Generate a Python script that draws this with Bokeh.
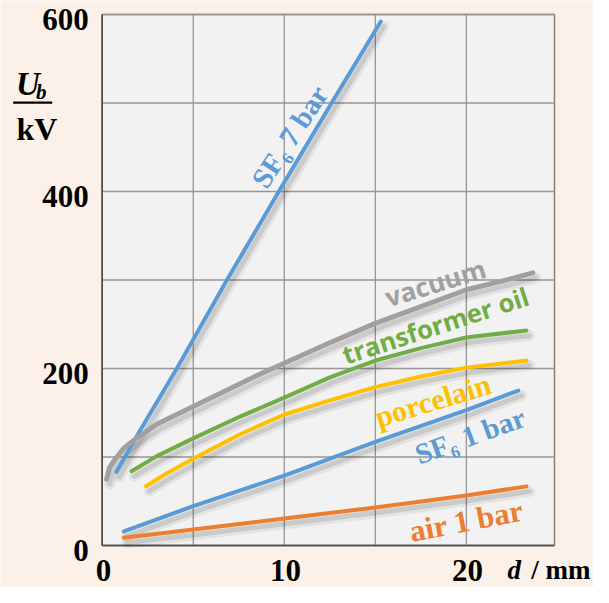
import math
from bokeh.plotting import figure
from bokeh.models import Range1d
from bokeh.core.properties import value
from bokeh.embed import file_html
from bokeh.resources import INLINE

# ---------------- data ----------------
x_lim = [0, 24.84]
y_lim = [0, 600]
x_ticks = [0, 5, 10, 15, 20]
x_tick_labels = ["0", "", "10", "", "20"]
y_ticks = [0, 100, 200, 300, 400, 500, 600]
y_tick_labels = ["0", "", "200", "", "400", "", "600"]

sf6_7_d = [0.78, 2.0, 4.1, 6.85, 9.7, 12.6, 15.3]
sf6_7_U = [83, 127, 200, 300, 400, 500, 592]

vacuum_d = [0.24, 0.4, 0.73, 1.2, 1.74, 3.0, 5.0, 6.7, 8.5, 10.0, 12.5, 15.0, 17.5, 20.0, 22.0, 23.65]
vacuum_U = [75, 88, 98, 110, 119, 137, 157, 174, 192, 206, 229, 251, 270, 289, 299, 308]

oil_d = [1.61, 3.0, 5.0, 7.6, 10.0, 12.5, 15.0, 17.5, 20.0, 23.3]
oil_U = [84, 101, 121, 146, 167, 190, 209, 223, 235, 243]

porcelain_d = [2.41, 3.5, 5.0, 7.6, 10.0, 12.5, 15.0, 17.5, 20.0, 23.3]
porcelain_U = [67, 81, 98, 126, 148, 164, 179, 191, 201, 209]

sf6_1_d = [1.19, 5.0, 10.0, 15.0, 20.0, 22.85]
sf6_1_U = [16, 44.5, 79, 117, 153, 175]

air_d = [1.19, 5.0, 10.0, 15.0, 20.0, 23.3]
air_U = [8.7, 18, 30.5, 43, 56.6, 66.8]

series = [
    ("SF\u2086 7 bar", sf6_7_d, sf6_7_U, "#5B9BD5"),
    ("vacuum", vacuum_d, vacuum_U, "#A0A0A0"),
    ("transformer oil", oil_d, oil_U, "#70AD47"),
    ("porcelain", porcelain_d, porcelain_U, "#FFC000"),
    ("SF\u2086 1 bar", sf6_1_d, sf6_1_U, "#5B9BD5"),
    ("air 1 bar", air_d, air_U, "#ED7D31"),
]

# curve labels: (text, d, U, angle_deg, font, size, color)
labels = [
    ("SF\u2086 7 bar", 10.3, 462, 57, "Liberation Serif", "29px", "#5B9BD5"),
    ("vacuum", 18.3, 297, 17, "Open Sans", "26px", "#A0A0A0"),
    ("transformer oil", 18.3, 249, 18, "Open Sans", "25.5px", "#70AD47"),
    ("porcelain", 18.15, 164, 17, "Liberation Serif", "30px", "#FFC000"),
    ("SF\u2086 1 bar", 20.2, 124, 20, "Liberation Serif", "29px", "#5B9BD5"),
    ("air 1 bar", 20.0, 28, 11, "Liberation Serif", "31px", "#ED7D31"),
]

# ---------------- layout (canvas pixels) ----------------
W, H = 593, 587
FL, FR, FT, FB = 101.7, 554.0, 14.0, 545.0   # plot-area edges on the canvas
ux = (x_lim[1] - x_lim[0]) / (FR - FL)
uy = (y_lim[1] - y_lim[0]) / (FB - FT)
x_start = x_lim[0] - FL * ux
x_end = x_lim[1] + (W - FR) * ux
y_start = y_lim[0] - (H - FB) * uy
y_end = y_lim[1] + FT * uy


def cx(px):
    return x_start + px * ux


def cy(py):
    return y_end - py * uy


PEACH = "#FCF1E9"
p = figure(width=W, height=H, output_backend="svg", toolbar_location=None,
           x_range=Range1d(x_start, x_end), y_range=Range1d(y_start, y_end),
           x_axis_type=None, y_axis_type=None, min_border=0)
p.min_border_left = p.min_border_right = p.min_border_top = p.min_border_bottom = 0
p.background_fill_color = PEACH
p.border_fill_color = PEACH
p.outline_line_color = None

# plot area
p.quad(left=[x_lim[0]], right=[x_lim[1]], bottom=[y_lim[0]], top=[y_lim[1]],
       fill_color="#F2F2F2", line_color="#808080", line_width=1.5)

# grid
GRID = "#969696"
p.segment(x0=x_ticks, y0=[y_lim[0]] * len(x_ticks), x1=x_ticks, y1=[y_lim[1]] * len(x_ticks),
          line_color=GRID, line_width=1.3)
p.segment(x0=[x_lim[0]] * len(y_ticks), y0=y_ticks, x1=[x_lim[1]] * len(y_ticks), y1=y_ticks,
          line_color=GRID, line_width=1.3)
# axis lines
p.segment(x0=[x_lim[0], x_lim[0]], y0=[y_lim[0], y_lim[0]], x1=[x_lim[0], x_lim[1]], y1=[y_lim[1], y_lim[0]],
          line_color="#4D4D4D", line_width=1.6)

# tick labels (only the labelled ticks)
TICK_FONT = dict(text_font=value("Liberation Serif"), text_font_style="bold",
                 text_font_size="31px", text_color="black", text_baseline="middle",
                 text_line_height=1.0)
yl = [(t, s) for t, s in zip(y_ticks, y_tick_labels) if s]
xl = [(t, s) for t, s in zip(x_ticks, x_tick_labels) if s]
p.text(x=[x_lim[0] - 13.5 * ux] * len(yl), y=[t - 5 * uy for t, _ in yl], text=[s for _, s in yl],
       text_align="right", **TICK_FONT)
p.text(x=[t + 1.2 * ux for t, _ in xl], y=[y_lim[0] - 25 * uy] * len(xl), text=[s for _, s in xl],
       text_align="center", **TICK_FONT)

# shadows, then curves
sdx, sdy = 3 * ux, -5 * uy
for name, d, U, col in series:
    sx = [v + sdx for v in d]
    sy = [v + sdy for v in U]
    p.line(sx, sy, line_color="black", line_alpha=0.06, line_width=11, line_cap="round")
    p.line(sx, sy, line_color="black", line_alpha=0.11, line_width=5, line_cap="round")
for name, d, U, col in series:
    w = 5 if name == "vacuum" else 4
    p.line(d, U, line_color=col, line_width=w, line_cap="round", line_join="round")

# curve labels
for text, d, U, ang, font, size, col in labels:
    p.text(x=[d], y=[U], text=[text], angle=math.radians(ang),
           text_font=value(font), text_font_style="bold", text_font_size=size,
           text_color=col, text_align="center", text_baseline="middle")

# axis titles:  U_b / kV  (fraction)   and   d / mm
SERIF = value("Liberation Serif")
p.text(x=[cx(15.5)], y=[cy(83.5)], text=["U"], text_font=SERIF, text_font_style="bold italic",
       text_font_size="33px", text_color="black", text_baseline="middle")
p.text(x=[cx(35.5)], y=[cy(91.5)], text=["b"], text_font=SERIF, text_font_style="bold italic",
       text_font_size="21px", text_color="black", text_baseline="middle")
p.segment(x0=[cx(12.7)], y0=[cy(102.2)], x1=[cx(51.7)], y1=[cy(102.2)], line_color="black", line_width=2.2)
p.text(x=[cx(16)], y=[cy(128.5)], text=["kV"], text_font=SERIF, text_font_style="bold",
       text_font_size="32px", text_color="black", text_baseline="middle")
p.text(x=[cx(507)], y=[cy(569)], text=["d"], text_font=SERIF, text_font_style="bold italic",
       text_font_size="27px", text_color="black", text_baseline="middle", text_line_height=1.0)
p.text(x=[cx(590)], y=[cy(569)], text=["/ mm"], text_font=SERIF, text_font_style="bold",
       text_font_size="27px", text_color="black", text_baseline="middle", text_align="right",
       text_line_height=1.0)

open("out.html", "w").write(file_html(p, INLINE))
